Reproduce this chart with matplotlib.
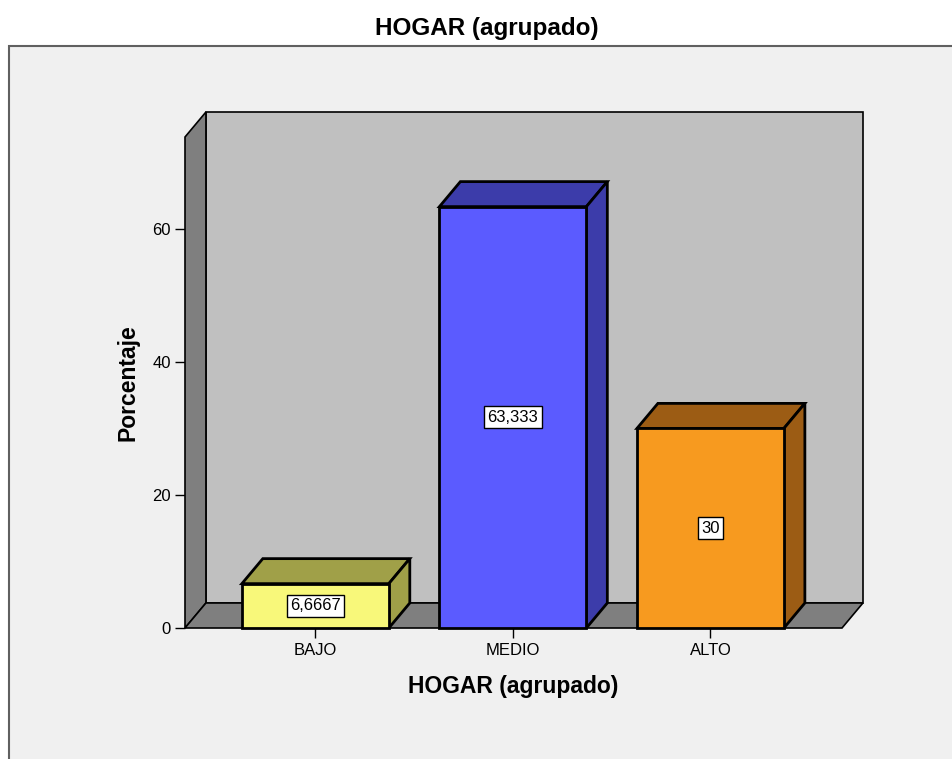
import matplotlib.pyplot as plt
from matplotlib.patches import Polygon, Rectangle

categories = ['BAJO', 'MEDIO', 'ALTO']
values = [6.6667, 63.333, 30]
value_labels = ['6,6667', '63,333', '30']
front_colors = ['#f8f87a', '#5b5bff', '#f79a1f']
side_colors = ['#a0a048', '#3c3caa', '#9c5c14']
y_ticks = [0, 20, 40, 60]

W, H = 952, 759
fig = plt.figure(figsize=(W / 100, H / 100), dpi=100)
fig.patch.set_facecolor('white')

# outer gray panel
fig.patches.append(Rectangle((9 / W, -0.1), 1.2, (759 - 46) / H + 0.1,
                             transform=fig.transFigure, facecolor='#f0f0f0',
                             edgecolor='#606060', lw=1.5, zorder=-10))

fig.text(487 / W, 1 - 28 / H, 'HOGAR (agrupado)', ha='center', va='center',
         fontsize=17.5, fontweight='bold', family='Liberation Sans')

ax = fig.add_axes([185 / W, (759 - 628) / H, (842 - 185) / W, (628 - 137) / H])
ax.set_facecolor('none')
x0, x1 = -0.66, 2.666
ytop = 73.8
ax.set_xlim(x0, x1)
ax.set_ylim(0, ytop)
for s in ax.spines.values():
    s.set_visible(False)

dx, dy = 0.106, 3.76
wall_kw = dict(edgecolor='black', lw=1.2, clip_on=False, joinstyle='miter')
# back wall
ax.add_patch(Polygon([(x0 + dx, dy), (x1 + dx, dy), (x1 + dx, ytop + dy),
                      (x0 + dx, ytop + dy)], facecolor='#c0c0c0', zorder=1, **wall_kw))
# left wall
ax.add_patch(Polygon([(x0, 0), (x0 + dx, dy), (x0 + dx, ytop + dy), (x0, ytop)],
                     facecolor='#7f7f7f', zorder=2, **wall_kw))
# floor
ax.add_patch(Polygon([(x0, 0), (x1, 0), (x1 + dx, dy), (x0 + dx, dy)],
                     facecolor='#7f7f7f', zorder=2, **wall_kw))

bw = 0.744
bar_kw = dict(edgecolor='black', lw=2, clip_on=False, joinstyle='miter', zorder=3)
for i, v in enumerate(values):
    l, r = i - bw / 2, i + bw / 2
    ax.add_patch(Polygon([(l, v), (r, v), (r + dx, v + dy), (l + dx, v + dy)],
                         facecolor=side_colors[i], **bar_kw))
    ax.add_patch(Polygon([(r, 0), (r + dx, dy), (r + dx, v + dy), (r, v)],
                         facecolor=side_colors[i], **bar_kw))
    ax.add_patch(Rectangle((l, 0), bw, v, facecolor=front_colors[i], **bar_kw))
    ax.text(i, v / 2, value_labels[i], ha='center', va='center', fontsize=12,
            family='Liberation Sans', zorder=5,
            bbox=dict(boxstyle='square,pad=0.2', facecolor='white',
                      edgecolor='black', lw=1))

ax.set_yticks(y_ticks)
ax.set_yticklabels([str(t) for t in y_ticks], family='Liberation Sans', fontsize=12)
ax.set_xticks(range(len(categories)))
ax.set_xticklabels(categories, family='Liberation Sans', fontsize=12)
ax.tick_params(axis='y', length=7, width=1, color='black', pad=3)
ax.tick_params(axis='x', length=7, width=1, color='black', pad=4)
for t in ax.get_xticklines():
    t.set_zorder(6)

fig.text(513 / W, 1 - 687 / H, 'HOGAR (agrupado)', ha='center', va='center',
         fontsize=16.5, fontweight='bold', family='Liberation Sans')
fig.text(128 / W, 1 - 383 / H, 'Porcentaje', ha='center', va='center', rotation=90,
         fontsize=16.5, fontweight='bold', family='Liberation Sans')

fig.savefig('out.png', dpi=100)
